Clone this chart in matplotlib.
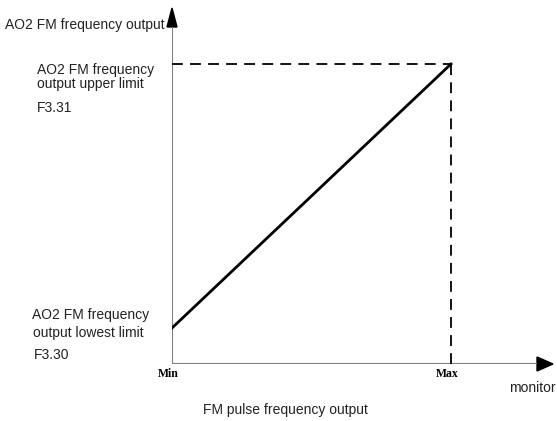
import matplotlib.pyplot as plt
from matplotlib.patches import Polygon

# chart values (normalised: Min..Max on x, output on y)
x_points = [0.0, 1.0]
y_points = [0.12, 1.0]
x_labels = ["Min", "Max"]
upper_label = ["AO2 FM frequency", "output upper limit"]
upper_code = "F3.31"
lower_label = ["AO2 FM frequency", "output lowest limit"]
lower_code = "F3.30"

W, H = 557, 421
fig = plt.figure(figsize=(W / 100, H / 100), dpi=100)

# axes origin at pixel (172, 364), 1 unit x = 279 px, 1 unit y = 300 px
ox, oy = 172, 364
sx, sy = 279, 300
ax = fig.add_axes([ox / W, (H - oy) / H, (W - ox) / W, oy / H])
ax.set_xlim(0, (W - ox) / sx)
ax.set_ylim(0, oy / sy)
ax.axis('off')

gray = '#808080'
# axes lines
ax.plot([0, (537 - ox) / sx], [0, 0], color=gray, lw=1.5, solid_capstyle='butt')
ax.plot([0, 0], [0, (oy - 27) / sy], color=gray, lw=1.5, solid_capstyle='butt')

# arrowheads
xe = (553 - ox) / sx
xb = (537 - ox) / sx
ax.add_patch(Polygon([[xb, 7 / sy], [xe, 0], [xb, -7 / sy]], closed=True,
                     color='black', clip_on=False))
ye = (oy - 8) / sy
yb = (oy - 27) / sy
ax.add_patch(Polygon([[-5 / sx, yb], [0, ye], [5 / sx, yb]], closed=True,
                     color='black', clip_on=False))

# dashed guide lines
ax.plot([0, x_points[1]], [y_points[1], y_points[1]], color='black', lw=1.3,
        dashes=(6, 4))
ax.plot([x_points[1], x_points[1]], [0, y_points[1]], color='black', lw=1.3,
        dashes=(6, 4))

# main output line
ax.plot(x_points, y_points, color='black', lw=2)

# tick labels
for xv, lab in zip(x_points, x_labels):
    ax.text(xv - 4 / sx, -10 / sy, lab, ha='center', va='center',
            family='Liberation Serif', fontsize=8.5, fontweight='bold',
            clip_on=False)

fs = 10
txt = dict(family='Liberation Sans', color='#222222', fontsize=fs)


def put(x, y, s, ha='left'):
    fig.text(x / W, 1 - y / H, s, ha=ha, va='center', **txt)


put(5, 25, "AO2 FM frequency output")
put(37, 70, upper_label[0])
put(37, 84, upper_label[1])
put(37, 108, upper_code)
put(32, 315, lower_label[0])
put(33, 333, lower_label[1])
put(34, 355, lower_code)
put(556, 388, "monitor", ha='right')
put(285, 410, "FM pulse frequency output", ha='center')

fig.savefig('out.png', dpi=100)
